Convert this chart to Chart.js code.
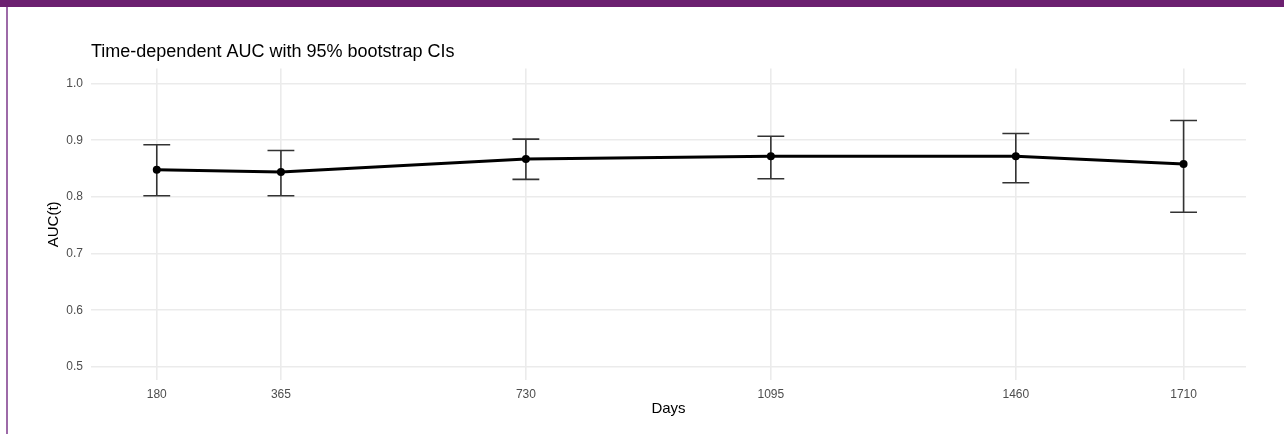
<!DOCTYPE html>
<html>
<head>
<meta charset="utf-8">
<script src="https://cdn.jsdelivr.net/npm/chart.js@4/dist/chart.umd.min.js"></script>
<style>
  html, body { margin: 0; padding: 0; background: #fff; }
  #wrap { position: relative; width: 1284px; height: 434px; overflow: hidden; }
  #topbar { position: absolute; left: 0; top: 0; width: 1284px; height: 7px; background: #6c2070; }
  #leftbar { position: absolute; left: 6px; top: 7px; width: 2px; height: 427px; background: #9d6aa8; }
  canvas { position: absolute; left: 0; top: 0; }
</style>
</head>
<body>
<div id="wrap">
  <canvas id="chartAuc" width="1284" height="434"></canvas>
  <div id="topbar"></div>
  <div id="leftbar"></div>
</div>
<script>
(function () {
  "use strict";

  const days = [180, 365, 730, 1095, 1460, 1710];
  const auc = [0.848, 0.844, 0.867, 0.872, 0.872, 0.858];
  const lower = [0.802, 0.802, 0.831, 0.832, 0.825, 0.773];
  const upper = [0.892, 0.882, 0.902, 0.907, 0.912, 0.935];
  const yTicks = [0.5, 0.6, 0.7, 0.8, 0.9, 1.0];

  const FONT = "'Liberation Sans', Arial, Helvetica, sans-serif";
  const GRID = "#ebebeb";
  const TICK = "#4d4d4d";
  const CAP_DAYS = 20;

  // ggplot-style error bars, drawn under the line
  const errorBars = {
    id: "errorBars",
    beforeDatasetsDraw(chart) {
      const ctx = chart.ctx;
      const x = chart.scales.x;
      const y = chart.scales.y;
      ctx.save();
      ctx.strokeStyle = "#333333";
      ctx.lineWidth = 1.6;
      days.forEach((d, i) => {
        const px = x.getPixelForValue(d);
        const x0 = x.getPixelForValue(d - CAP_DAYS);
        const x1 = x.getPixelForValue(d + CAP_DAYS);
        const yLo = y.getPixelForValue(lower[i]);
        const yHi = y.getPixelForValue(upper[i]);
        ctx.beginPath();
        ctx.moveTo(px, yLo); ctx.lineTo(px, yHi);
        ctx.moveTo(x0, yLo); ctx.lineTo(x1, yLo);
        ctx.moveTo(x0, yHi); ctx.lineTo(x1, yHi);
        ctx.stroke();
      });
      ctx.restore();
    }
  };

  new Chart(document.getElementById("chartAuc"), {
    type: "line",
    data: {
      datasets: [{
        data: days.map((d, i) => ({ x: d, y: auc[i] })),
        borderColor: "#000",
        backgroundColor: "#000",
        borderWidth: 3,
        pointRadius: 4,
        pointBorderWidth: 0,
        tension: 0
      }]
    },
    options: {
      responsive: false,
      animation: false,
      devicePixelRatio: 1,
      layout: { padding: { left: 0, right: 38, top: 0, bottom: 0 } },
      scales: {
        x: {
          type: "linear",
          min: 82,
          max: 1803,
          afterBuildTicks: (s) => { s.ticks = days.map((v) => ({ value: v })); },
          afterFit: (s) => { s.height = 54; },
          grid: { color: GRID, lineWidth: 1.6, drawTicks: false },
          border: { display: false },
          ticks: { color: TICK, font: { family: FONT, size: 12 }, padding: 7, maxRotation: 0,
                   callback: (v) => String(v) },
          title: { display: true, text: "Days", color: "#000", font: { family: FONT, size: 15 },
                   padding: { top: 0, bottom: 16 } }
        },
        y: {
          min: 0.477,
          max: 1.0265,
          afterBuildTicks: (s) => { s.ticks = yTicks.map((v) => ({ value: v })); },
          afterFit: (s) => { s.width = 91; },
          grid: { color: GRID, lineWidth: 1.6, drawTicks: false },
          border: { display: false },
          ticks: { color: TICK, font: { family: FONT, size: 12 }, padding: 8,
                   callback: (v) => v.toFixed(1) },
          title: { display: true, text: "AUC(t)", color: "#000", font: { family: FONT, size: 15 },
                   padding: { top: 45, bottom: 0 } }
        }
      },
      plugins: {
        legend: { display: false },
        tooltip: { enabled: false },
        title: {
          display: true,
          text: "Time-dependent AUC with 95% bootstrap CIs",
          align: "start",
          fullSize: false,
          color: "#000",
          font: { family: FONT, size: 18, weight: "normal" },
          padding: { top: 41, bottom: 6 }
        }
      }
    },
    plugins: [errorBars]
  });
})();
</script>
</body>
</html>
